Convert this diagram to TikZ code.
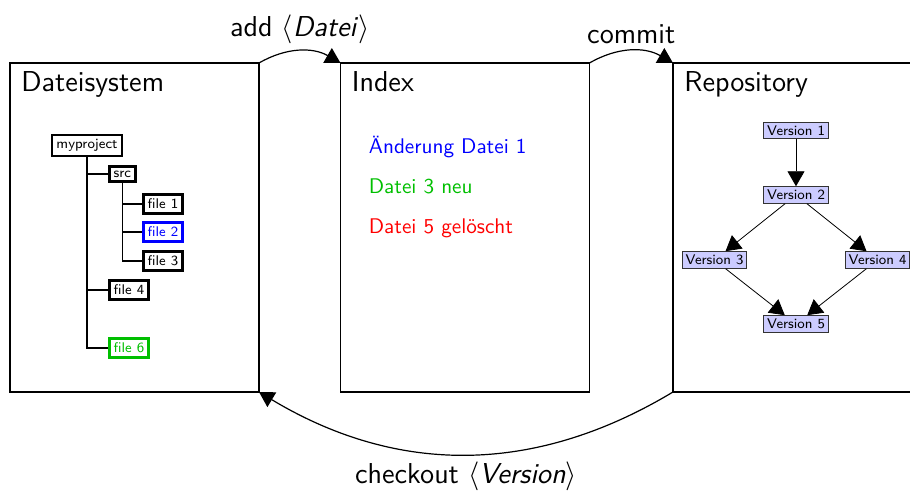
\documentclass[tikz,border=0pt]{standalone}
\usetikzlibrary{arrows.meta}
\renewcommand{\familydefault}{\sfdefault}
\tikzset{
  area/.style={draw, semithick, minimum width=124.5pt, minimum height=164.5pt,
    inner sep=0pt, outer sep=0pt},
  areatitle/.style={font=\Large, anchor=base west, inner sep=0pt},
  change/.style={font=\fontsize{10.6}{13}\selectfont, anchor=base west, inner sep=0pt},
  filebox/.style={draw, line width=1.3pt, font=\scriptsize, inner sep=2.2pt, anchor=west},
  version/.style={draw=black!80, fill=blue!20, font=\scriptsize, inner sep=1.7pt},
  bigtip/.style={-{Triangle[length=7.5pt,width=8.5pt]}},
}
\colorlet{newgreen}{green!75!black}
\begin{document}
\begin{tikzpicture}[x=0.5pt,y=0.5pt]
  \useasboundingbox (0,0) rectangle (910,492);
  % the three areas
  \node[area] (fs)   at (134.5,264.5) {};
  \node[area] (idx)  at (465,264.5) {};
  \node[area] (repo) at (797.5,264.5) {};
  \node[areatitle] (fstitle)   at ([shift={(11,-29)}]fs.north west) {Dateisystem};
  \node[areatitle] (idxtitle)  at ([shift={(11,-29)}]idx.north west) {Index};
  \node[areatitle] (repotitle) at ([shift={(11,-29)}]repo.north west) {Repository};

  % working tree
  \node[filebox, anchor=center] (proj) at (87,346.5) {myproject};
  \node[filebox] (src) at (108,318) {src};
  \node[filebox] (f1) at (142,288) {file 1};
  \node[filebox, draw=blue, text=blue] (f2) at (142,260) {file 2};
  \node[filebox] (f3) at (142,231) {file 3};
  \node[filebox] (f4) at (108,202) {file 4};
  \node[filebox, draw=newgreen, text=newgreen] (f6) at (108,144) {file 6};
  \draw[semithick] (proj.south) |- (src.west);
  \draw[semithick] (proj.south) |- (f4.west);
  \draw[semithick] (proj.south) |- (f6.west);
  \draw[semithick] (src.south) |- (f1.west);
  \draw[semithick] (src.south) |- (f2.west);
  \draw[semithick] (src.south) |- (f3.west);

  % staged changes
  \node[change, blue] (c1) at ([shift={(28,-91)}]idx.north west) {Änderung Datei 1};
  \node[change, newgreen] (c2) at ([shift={(28,-131)}]idx.north west) {Datei 3 neu};
  \node[change, red] (c3) at ([shift={(28,-171)}]idx.north west) {Datei 5 gelöscht};

  % history
  \node[version] (v1) at (796,361.5) {Version 1};
  \node[version] (v2) at (796,297) {Version 2};
  \node[version] (v3) at (714.5,232) {Version 3};
  \node[version] (v4) at (877.5,232) {Version 4};
  \node[version] (v5) at (796,168) {Version 5};
  \draw[bigtip] (v1) -- (v2);
  \draw[bigtip] (v2) -- (v3);
  \draw[bigtip] (v2) -- (v4);
  \draw[bigtip] (v3) -- (v5);
  \draw[bigtip] (v4) -- (v5);

  % commands
  \draw[bigtip, semithick] (fs.north east) to[bend left=30]
    node[above, font=\Large] {add $\langle$\textit{Datei}$\rangle$} (idx.north west);
  \draw[bigtip, semithick] (idx.north east) to[bend left=30]
    node[above, font=\Large] {commit} (repo.north west);
  \draw[bigtip, semithick] (repo.south west) to[bend left=31]
    node[below, font=\Large] {checkout $\langle$\textit{Version}$\rangle$} (fs.south east);
\end{tikzpicture}
\end{document}
